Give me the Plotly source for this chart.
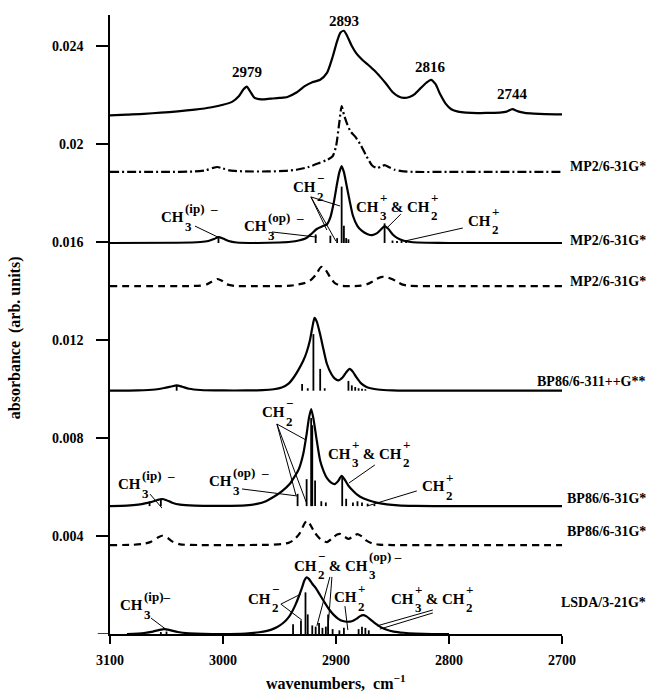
import plotly.graph_objects as go

# ---------------- data ----------------
X_TICKS = [3100, 3000, 2900, 2800, 2700]
Y_TICKS = [0.004, 0.008, 0.012, 0.016, 0.02, 0.024]
Y_TICK_TEXT = ["0.004", "0.008", "0.012", "0.016", "0.02", "0.024"]

# experimental spectrum
EXP_WN = [3100, 3085, 3070, 3055, 3040, 3025, 3010, 3000, 2992, 2986, 2982, 2979, 2976, 2972, 2966,
          2958, 2950, 2943, 2935, 2928, 2921, 2914, 2908, 2903, 2899, 2896, 2893, 2890, 2886, 2882,
          2877, 2872, 2866, 2861, 2856, 2850, 2845, 2840, 2835, 2830, 2825, 2820, 2816, 2812, 2808,
          2803, 2798, 2792, 2785, 2775, 2765, 2755, 2749, 2744, 2739, 2733, 2725, 2715, 2700]
EXP_ABS = [0.02117, 0.02120, 0.02123, 0.02128, 0.02133, 0.02140, 0.02150, 0.02160, 0.02172, 0.02195,
           0.02222, 0.02234, 0.02215, 0.02188, 0.02182, 0.02185, 0.02188, 0.02192, 0.02210, 0.02235,
           0.02252, 0.02262, 0.02290, 0.02355, 0.02420, 0.02455, 0.02462, 0.02440, 0.02400, 0.02370,
           0.02345, 0.02325, 0.02300, 0.02275, 0.02248, 0.02212, 0.02195, 0.02188, 0.02192, 0.02205,
           0.02228, 0.02250, 0.02262, 0.02245, 0.02205, 0.02165, 0.02142, 0.02132, 0.02128, 0.02126,
           0.02127, 0.02128, 0.02132, 0.02142, 0.02133, 0.02127, 0.02124, 0.02122, 0.02121]
EXP_PEAKS = [2979, 2893, 2816, 2744]
EXP_PEAK_LABEL_Y = [0.02294, 0.02500, 0.02314, 0.02204]

# MP2/6-31G* (dash-dot)
MP2A_WN = [3100, 3050, 3025, 3015, 3009, 3005, 3000, 2994, 2980, 2960, 2945, 2935, 2925, 2915, 2908,
           2903, 2900, 2897, 2895, 2893, 2890, 2887, 2883, 2878, 2873, 2868, 2864, 2860, 2857, 2853,
           2848, 2842, 2830, 2800, 2750, 2700]
MP2A_ABS = [0.01886, 0.01886, 0.01888, 0.01893, 0.01902, 0.01906, 0.01900, 0.01892, 0.01888, 0.01888,
            0.01890, 0.01895, 0.01905, 0.01922, 0.01935, 0.01950, 0.01990, 0.02090, 0.02155, 0.02120,
            0.02080, 0.02050, 0.02030, 0.01995, 0.01950, 0.01912, 0.01902, 0.01908, 0.01914, 0.01905,
            0.01895, 0.01889, 0.01886, 0.01886, 0.01886, 0.01886]

# MP2/6-31G* (solid, with stick spectrum)
MP2B_BASE = 0.01596
MP2B_WN = [3100, 3040, 3020, 3013, 3008, 3004, 3000, 2995, 2988, 2970, 2950, 2940, 2933, 2927, 2922,
           2917, 2912, 2908, 2905, 2902, 2899, 2897, 2895, 2893, 2891, 2888, 2885, 2881, 2877, 2872,
           2868, 2864, 2860, 2857, 2854, 2850, 2846, 2840, 2832, 2820, 2800, 2700]
MP2B_ABS = [0.01596, 0.01597, 0.01600, 0.01604, 0.01612, 0.01620, 0.01614, 0.01604, 0.01598, 0.01596,
            0.01598, 0.01601, 0.01606, 0.01614, 0.01632, 0.01653, 0.01664, 0.01672, 0.01700, 0.01760,
            0.01840, 0.01885, 0.01910, 0.01885, 0.01840, 0.01770, 0.01707, 0.01665, 0.01645, 0.01632,
            0.01628, 0.01635, 0.01652, 0.01665, 0.01655, 0.01632, 0.01617, 0.01605, 0.01599, 0.01597,
            0.01596, 0.01596]
MP2B_STICK_WN = [3004, 2918, 2905, 2899, 2895, 2893, 2891, 2889, 2857, 2850, 2846, 2842, 2838, 2834]
MP2B_STICK_H = [0.0002, 0.00035, 0.0003, 0.0002, 0.0023, 0.0007, 0.0002, 0.00015, 0.0008, 0.0001,
                0.00008, 0.0001, 0.00006, 0.00005]

# MP2/6-31G* (dashed)
MP2C_WN = [3100, 3030, 3020, 3014, 3010, 3005, 3001, 2997, 2990, 2970, 2950, 2940, 2934, 2928, 2923,
           2918, 2913, 2909, 2905, 2901, 2897, 2892, 2885, 2878, 2873, 2868, 2864, 2859, 2854, 2850,
           2846, 2841, 2835, 2800, 2700]
MP2C_ABS = [0.0142, 0.0142, 0.01422, 0.01428, 0.01438, 0.01449, 0.01442, 0.01428, 0.01421, 0.0142,
            0.0142, 0.01422, 0.01426, 0.01432, 0.01442, 0.01465, 0.01499, 0.01485, 0.01455, 0.01432,
            0.01423, 0.0142, 0.0142, 0.01422, 0.01427, 0.01438, 0.0145, 0.01458, 0.01455, 0.01448,
            0.01438, 0.01426, 0.01421, 0.0142, 0.0142]

# BP86/6-311++G** (solid, with sticks)
BP86A_BASE = 0.00993
BP86A_WN = [3100, 3075, 3060, 3052, 3046, 3041, 3036, 3030, 3020, 3000, 2980, 2965, 2955, 2948, 2942,
            2937, 2933, 2929, 2926, 2923, 2921, 2919, 2917, 2914, 2911, 2908, 2904, 2901, 2898, 2894,
            2891, 2888, 2885, 2882, 2878, 2873, 2866, 2858, 2850, 2840, 2820, 2700]
BP86A_ABS = [0.00993, 0.00994, 0.00998, 0.01004, 0.01010, 0.01015, 0.01009, 0.01001, 0.00996, 0.00994,
             0.00994, 0.00995, 0.00999, 0.01006, 0.01022, 0.01050, 0.01080, 0.01115, 0.01150, 0.01200,
             0.01250, 0.01290, 0.01275, 0.01222, 0.01160, 0.01102, 0.01060, 0.01042, 0.01035, 0.01048,
             0.01068, 0.01082, 0.01070, 0.01048, 0.01024, 0.01008, 0.01000, 0.00996, 0.00994, 0.00993,
             0.00993, 0.00993]
BP86A_STICK_WN = [3041, 2930, 2925, 2920, 2914, 2910, 2889, 2886, 2883, 2880, 2877, 2874]
BP86A_STICK_H = [0.0002, 0.00027, 0.0001, 0.00231, 0.00089, 0.0001, 0.0004, 0.00022, 0.00015, 0.0001,
                 0.00008, 0.00006]

# BP86/6-31G* (solid, with sticks)
BP86B_BASE = 0.00522
BP86B_WN = [3100, 3085, 3075, 3068, 3062, 3058, 3054, 3050, 3045, 3038, 3025, 3000, 2980, 2970, 2962,
            2955, 2948, 2941, 2937, 2933, 2929, 2926, 2924, 2922, 2920, 2917, 2914, 2911, 2908, 2904,
            2901, 2898, 2895, 2892, 2889, 2885, 2881, 2876, 2870, 2863, 2855, 2845, 2830, 2800, 2700]
BP86B_ABS = [0.00522, 0.00524, 0.00528, 0.00534, 0.00541, 0.00547, 0.00551, 0.00546, 0.00536, 0.00528,
             0.00524, 0.00523, 0.00525, 0.00531, 0.00542, 0.00560, 0.00582, 0.00612, 0.00640, 0.00672,
             0.00735, 0.00816, 0.00880, 0.00918, 0.00880, 0.00789, 0.00707, 0.00665, 0.00636, 0.00617,
             0.00612, 0.00625, 0.00646, 0.00628, 0.00605, 0.00585, 0.00568, 0.00554, 0.00544, 0.00535,
             0.00529, 0.00525, 0.00523, 0.00522, 0.00522]
BP86B_STICK_WN = [3065, 3055, 2934, 2926, 2922, 2921, 2918.5, 2913, 2909, 2894.5, 2891, 2885, 2881,
                  2877, 2872, 2866]
BP86B_STICK_H = [0.0002, 0.0003, 0.0005, 0.0011, 0.0036, 0.0033, 0.00105, 0.0002, 0.00015, 0.0012,
                 0.0003, 0.00015, 0.0002, 0.00015, 0.0001, 0.00008]

# BP86/6-31G* (dashed)
BP86C_WN = [3100, 3080, 3070, 3064, 3058, 3054, 3049, 3045, 3038, 3020, 2990, 2960, 2948, 2942, 2937,
            2932, 2928, 2926, 2923, 2919, 2914, 2908, 2903, 2899, 2896, 2892, 2889, 2885, 2881, 2877,
            2873, 2868, 2862, 2850, 2800, 2700]
BP86C_ABS = [0.00363, 0.00364, 0.00368, 0.00376, 0.00393, 0.00401, 0.00392, 0.00378, 0.00366, 0.00363,
             0.00363, 0.00364, 0.00367, 0.00372, 0.00385, 0.00412, 0.00450, 0.00462, 0.00448, 0.00415,
             0.00388, 0.00375, 0.00392, 0.00406, 0.00408, 0.00396, 0.00388, 0.00398, 0.00408, 0.00398,
             0.00381, 0.00370, 0.00365, 0.00363, 0.00363, 0.00363]

# LSDA/3-21G* (solid, with sticks)
LSDA_BASE = 0.0
LSDA_WN = [3085, 3070, 3062, 3056, 3052, 3047, 3040, 3030, 3000, 2980, 2968, 2961, 2955, 2950, 2946,
           2942, 2939, 2936, 2933, 2930, 2928, 2926, 2924, 2921, 2918, 2914, 2910, 2906, 2902, 2898,
           2894, 2890, 2886, 2882, 2879, 2876, 2873, 2869, 2865, 2860, 2855, 2849, 2840, 2830, 2815, 2800]
LSDA_ABS = [0.0, 0.00004, 0.0001, 0.00017, 0.0002, 0.00016, 0.00008, 0.00003, 0.0, 0.00002, 0.00007,
            0.00013, 0.00022, 0.00034, 0.00048, 0.00068, 0.0009, 0.00118, 0.00152, 0.00190, 0.00218,
            0.00231, 0.00225, 0.00205, 0.00188, 0.00158, 0.00128, 0.00100, 0.00078, 0.00062, 0.00053,
            0.0005, 0.00052, 0.00062, 0.00072, 0.00077, 0.00072, 0.00057, 0.00042, 0.00027, 0.00017,
            0.0001, 0.00005, 0.00002, 0.0, 0.0]
LSDA_STICK_WN = [3055, 3050, 2938, 2931, 2927, 2925, 2921, 2918, 2915, 2912, 2909, 2907, 2903, 2897,
                 2893, 2880, 2877, 2874, 2871]
LSDA_STICK_H = [0.00008, 0.0001, 0.0004, 0.00055, 0.0017, 0.0008, 0.00035, 0.0003, 0.00045, 0.00025,
                0.0003, 0.0008, 0.0002, 0.00015, 0.00025, 0.0002, 0.0003, 0.00025, 0.00015]

# method labels on the right
METHOD_LABELS = ["MP2/6-31G*", "MP2/6-31G*", "MP2/6-31G*", "BP86/6-311++G**",
                 "BP86/6-31G*", "BP86/6-31G*", "LSDA/3-21G*"]
METHOD_LABEL_Y = [0.0191, 0.01608, 0.01437, 0.01029, 0.00555, 0.0042, 0.00127]

# ---------------- figure ----------------
FONT = "Liberation Serif, Times New Roman, serif"
fig = go.Figure()


def curve(wn, ab, dash="solid"):
    fig.add_trace(go.Scatter(x=wn, y=ab, mode="lines", hoverinfo="skip", showlegend=False,
                             line=dict(color="black", width=2.2, dash=dash, shape="spline", smoothing=0.6)))


def sticks(wn, h, base):
    xs, ys = [], []
    for w, hh in zip(wn, h):
        xs += [w, w, None]
        ys += [base, base + hh, None]
    fig.add_trace(go.Scatter(x=xs, y=ys, mode="lines", hoverinfo="skip", showlegend=False,
                             line=dict(color="black", width=1.8)))


curve(EXP_WN, EXP_ABS)
curve(MP2A_WN, MP2A_ABS, "9px,3px,2px,3px")
curve(MP2B_WN, MP2B_ABS)
sticks(MP2B_STICK_WN, MP2B_STICK_H, MP2B_BASE)
curve(MP2C_WN, MP2C_ABS, "7px,5px")
curve(BP86A_WN, BP86A_ABS)
sticks(BP86A_STICK_WN, BP86A_STICK_H, BP86A_BASE)
curve(BP86B_WN, BP86B_ABS)
sticks(BP86B_STICK_WN, BP86B_STICK_H, BP86B_BASE)
curve(BP86C_WN, BP86C_ABS, "7px,5px")
curve(LSDA_WN, LSDA_ABS)
sticks(LSDA_STICK_WN, LSDA_STICK_H, LSDA_BASE)

# peak labels of the experimental spectrum
for wn, y in zip(EXP_PEAKS, EXP_PEAK_LABEL_Y):
    fig.add_annotation(x=wn, y=y, text=str(wn), showarrow=False, xanchor="center", yanchor="middle",
                       font=dict(size=15))

# method labels
for t, y in zip(METHOD_LABELS, METHOD_LABEL_Y):
    fig.add_annotation(x=1.19, xref="paper", y=y, yref="y", text=t, showarrow=False,
                       xanchor="right", yanchor="middle", font=dict(size=14))

# chemical group labels with stacked sub/superscripts
CW = {'C': 0.722, 'H': 0.778, ' ': 0.25, '\u00a0': 0.25, '&': 0.833, '2': 0.5, '3': 0.5, '+': 0.57,
      '\u2212': 0.57, '\u2013': 0.5, '(': 0.333, ')': 0.333, 'i': 0.278, 'p': 0.556, 'o': 0.5}


def tw(s, size):
    return sum(CW.get(c, 0.5) for c in s) * size


def chem(x, y, pieces, size=15, small=13):
    shift = 0.0
    for p in pieces:
        if isinstance(p, str):
            fig.add_annotation(x=x, y=y, text=p, showarrow=False, xanchor="left", yanchor="middle",
                               xshift=shift, borderpad=0, font=dict(size=size))
            shift += tw(p, size)
        else:
            sub, sup = p
            shift += 1.5
            fig.add_annotation(x=x, y=y, text=sup, showarrow=False, xanchor="left", yanchor="middle",
                               xshift=shift, yshift=9, borderpad=0, font=dict(size=small))
            fig.add_annotation(x=x, y=y, text=sub, showarrow=False, xanchor="left", yanchor="middle",
                               xshift=shift, yshift=-9, borderpad=0, font=dict(size=small))
            shift += max(tw(sub, small), tw(sup, small))


def leader(x0, y0, x1, y1):
    fig.add_shape(type="line", xref="x", yref="y", x0=x0, y0=y0, x1=x1, y1=y1,
                  line=dict(color="black", width=1))


NB = "\u00a0"
IP = ("3", "(ip)" + NB + NB + "\u2013")
OP = ("3", "(op)" + NB + NB + "\u2013")
M2 = ("2", "\u2212")
P2 = ("2", "+")
P3 = ("3", "+")
AND = NB + "&" + NB + "CH"

# MP2/6-31G* solid panel
chem(3055.8, 0.01702, ["CH", IP]);  leader(3024.8, 0.01665, 3004.5, 0.0162)
chem(2982.4, 0.01665, ["CH", OP]);  leader(2956.7, 0.01641, 2916.9, 0.0162)
chem(2939.0, 0.01824, ["CH", M2])
leader(2922.2, 0.01784, 2908.1, 0.01649)
leader(2922.2, 0.01784, 2900.1, 0.01604)
leader(2922.2, 0.01784, 2896.5, 0.01747)
chem(2883.3, 0.01743, ["CH", P3, AND, P2]);  leader(2842.6, 0.01714, 2855.0, 0.01657)
chem(2784.2, 0.01686, ["CH", P2]);  leader(2787.8, 0.01657, 2839.1, 0.01604)

# BP86/6-31G* solid panel
chem(3093.8, 0.00612, ["CH", IP]);  leader(3064.6, 0.00571, 3054.0, 0.00514)
chem(3013.3, 0.00624, ["CH", OP]);  leader(2983.2, 0.00592, 2933.7, 0.00563)
chem(2966.4, 0.00906, ["CH", M2])
leader(2952.3, 0.00857, 2926.6, 0.00792)
leader(2952.3, 0.00857, 2935.5, 0.00567)
leader(2952.3, 0.00857, 2925.8, 0.00531)
chem(2908.1, 0.00735, ["CH", P3, AND, P2]);  leader(2865.6, 0.0069, 2888.6, 0.00616)
chem(2824.9, 0.00604, ["CH", P2]);  leader(2828.5, 0.00584, 2872.7, 0.00522)

# LSDA/3-21G* panel
chem(3092.0, 0.00118, ["CH", ("3", "(ip)\u2013")]);  leader(3063.7, 0.00065, 3049.6, 0.00016)
chem(2978.8, 0.00143, ["CH", M2])
leader(2948.8, 0.00122, 2931.1, 0.00163)
leader(2948.8, 0.00122, 2930.2, 0.00057)
chem(2938.1, 0.00278, ["CH", M2, AND, ("3", "(op)" + NB + "\u2013")])
leader(2905.4, 0.00233, 2916.9, 0.00033)
leader(2903.6, 0.00233, 2907.2, 0.00016)
chem(2902.8, 0.00151, ["CH", P2]);  leader(2892.1, 0.00114, 2889.5, 0.00016)
chem(2852.3, 0.00143, ["CH", P3, AND, P2])
leader(2814.3, 0.00098, 2863.8, 0.00033)
leader(2814.3, 0.00086, 2861.2, 0.0002)

# short extension of the x axis to the left of the y axis (as in the original)
fig.add_shape(type="line", xref="paper", yref="y", x0=-0.027, x1=0, y0=0, y1=0,
              line=dict(color="black", width=1.5))

# axis titles
fig.add_annotation(x=0.5, y=-0.0775, xref="paper", yref="paper", showarrow=False,
                   text="wavenumbers," + NB + NB + "cm<sup>\u22121</sup>", font=dict(size=16),
                   xanchor="center", yanchor="middle")
fig.add_annotation(x=-0.21, y=0.478, xref="paper", yref="paper", showarrow=False, textangle=-90,
                   text="absorbance" + NB + NB + "(arb." + NB + "units)", font=dict(size=16),
                   xanchor="center", yanchor="middle")

fig.update_layout(
    width=651, height=692,
    margin=dict(l=110, r=89, t=15, b=58),
    paper_bgcolor="white", plot_bgcolor="white",
    font=dict(family=FONT, size=14, color="black", weight="bold"),
    showlegend=False,
)
fig.update_xaxes(range=[3100, 2700], tickvals=X_TICKS, ticktext=[str(v) for v in X_TICKS],
                 ticks="outside", ticklen=8, tickwidth=1.5, tickcolor="black",
                 showline=True, linecolor="black", linewidth=1.5, showgrid=False, zeroline=False,
                 ticklabelstandoff=4, tickfont=dict(size=14))
fig.update_yaxes(range=[0, 0.025265], tickvals=Y_TICKS, ticktext=Y_TICK_TEXT,
                 ticks="outside", ticklen=12, tickwidth=1.5, tickcolor="black",
                 showline=True, linecolor="black", linewidth=1.5, showgrid=False, zeroline=False,
                 ticklabelstandoff=10, tickfont=dict(size=14))

fig.write_html("out.html", config={"displayModeBar": False},
               post_script="document.body.style.margin='0';")
